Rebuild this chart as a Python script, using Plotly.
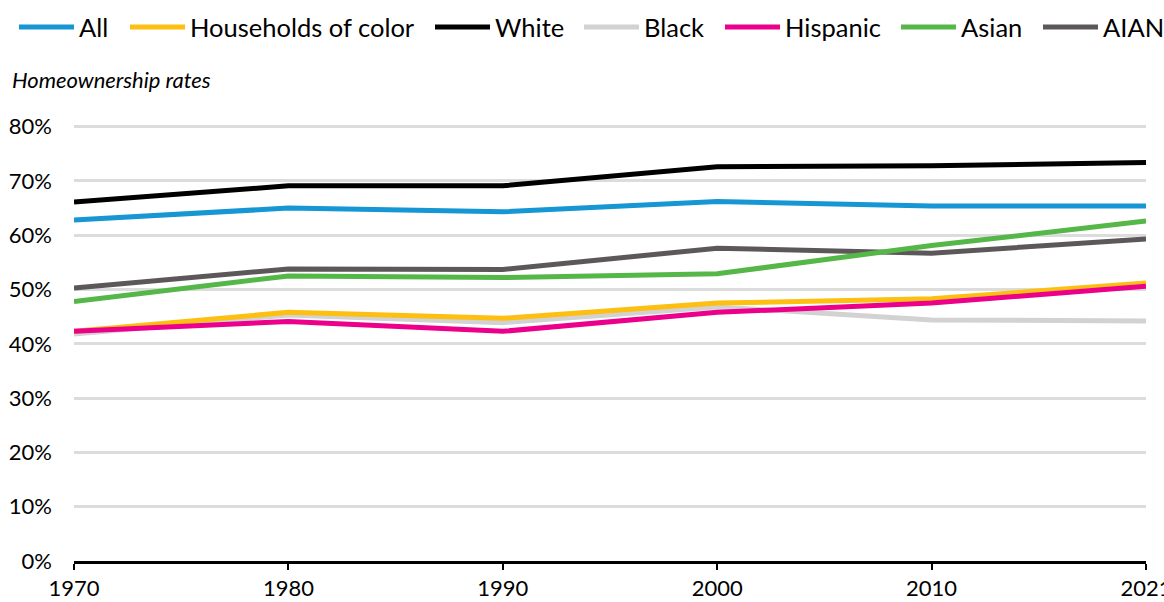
import plotly.graph_objects as go

# Census years (evenly spaced categories on the x axis)
years = ["1970", "1980", "1990", "2000", "2010", "2021"]

# Homeownership rates, percent
all_hh = [62.8, 65.0, 64.3, 66.2, 65.4, 65.4]
households_of_color = [42.3, 45.8, 44.7, 47.5, 48.3, 51.2]
white = [66.1, 69.1, 69.1, 72.6, 72.8, 73.4]
black = [41.8, 45.3, 43.9, 46.8, 44.4, 44.2]
hispanic = [42.3, 44.1, 42.3, 45.8, 47.5, 50.6]
asian = [47.8, 52.5, 52.2, 52.9, 58.1, 62.6]
aian = [50.3, 53.8, 53.7, 57.6, 56.7, 59.3]

y_ticks = [0, 10, 20, 30, 40, 50, 60, 70, 80]
y_tick_text = [f"{v}%" for v in y_ticks]

# (name, values, colour); listed in drawing order, bottom first
series = [
    ("Black", black, "#d2d2d2"),
    ("Households of color", households_of_color, "#fdbf11"),
    ("Hispanic", hispanic, "#ec008b"),
    ("AIAN", aian, "#5c5859"),
    ("Asian", asian, "#55b748"),
    ("All", all_hh, "#1696d2"),
    ("White", white, "#000000"),
]
colour_of = {name: c for name, _, c in series}

# Legend order and the left edge (px) of each key's swatch
legend_order = ["All", "Households of color", "White", "Black",
                "Hispanic", "Asian", "AIAN"]
legend_left = [19, 130, 435, 584, 725, 901, 1043]
SWATCH = 55      # swatch length, px
SWATCH_GAP = 4   # swatch-to-label gap, px
LEGEND_Y = 27    # legend centre line, px from top

FONT = "Lato, 'Open Sans', sans-serif"
W, H = 1164, 602
M_L, M_R, M_T, M_B = 74, 18, 125, 41
plot_w = W - M_L - M_R
plot_h = H - M_T - M_B


def px_x(px):
    return (px - M_L) / plot_w


def px_y(py):
    return 1 + (M_T - py) / plot_h


fig = go.Figure()
for name, vals, color in series:
    fig.add_trace(go.Scatter(
        x=years, y=vals, name=name, mode="lines",
        line=dict(color=color, width=5),
        showlegend=False,
    ))

shapes = []
annotations = []
for name, left in zip(legend_order, legend_left):
    shapes.append(dict(
        type="line", xref="paper", yref="paper",
        x0=px_x(left), x1=px_x(left + SWATCH),
        y0=px_y(LEGEND_Y), y1=px_y(LEGEND_Y),
        line=dict(color=colour_of[name], width=5),
    ))
    annotations.append(dict(
        text=name, xref="paper", yref="paper",
        x=px_x(left + SWATCH + SWATCH_GAP), xanchor="left",
        y=px_y(LEGEND_Y), yanchor="middle",
        showarrow=False, borderpad=0,
        font=dict(family=FONT, size=25.5, color="#000000"),
    ))

annotations.append(dict(
    text="<i>Homeownership rates</i>",
    xref="paper", yref="paper",
    x=px_x(11), xanchor="left",
    y=px_y(79), yanchor="middle",
    showarrow=False, borderpad=0,
    font=dict(family=FONT, size=22, color="#000000"),
))

fig.update_layout(
    width=W, height=H,
    margin=dict(l=M_L, r=M_R, t=M_T, b=M_B, autoexpand=False),
    paper_bgcolor="white", plot_bgcolor="white",
    font=dict(family=FONT, size=22, color="#000000"),
    showlegend=False,
    xaxis=dict(
        type="category",
        range=[0, len(years) - 1],
        showgrid=False,
        showline=True, linecolor="#000000", linewidth=2.5,
        ticks="outside", ticklen=6, tickwidth=2, tickcolor="#000000",
        ticklabelstandoff=0,
        tickfont=dict(family=FONT, size=22, color="#000000"),
        automargin=False,
        zeroline=False,
    ),
    yaxis=dict(
        range=[0, 80.3],
        tickvals=y_ticks,
        ticktext=y_tick_text,
        showgrid=True, gridcolor="#dcdcdc", gridwidth=3,
        zeroline=False,
        showline=False,
        ticks="", ticklabelstandoff=21,
        tickfont=dict(family=FONT, size=22, color="#000000"),
        automargin=False,
    ),
    shapes=shapes,
    annotations=annotations,
)

fig.write_html("out.html")
